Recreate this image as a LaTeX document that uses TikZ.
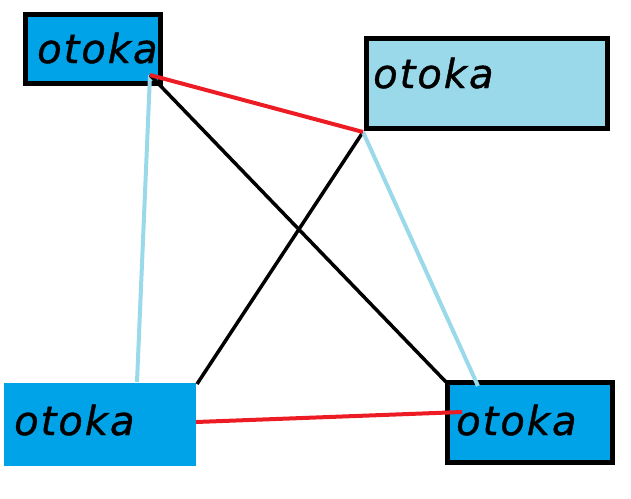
\documentclass[tikz,border=0pt]{standalone}
\usepackage{fontspec}
\setmainfont{DejaVu Sans}
\newfontfamily\labfont[LetterSpace=5,FakeBold=1]{DejaVu Sans}
\definecolor{cblue}{HTML}{00A2E8}
\definecolor{lblue}{HTML}{99D9EA}
\definecolor{cred}{HTML}{ED1C24}
\begin{document}
\begin{tikzpicture}[x=1pt,y=-1pt,
  box/.style={rectangle,inner sep=0,outer sep=0,line width=5pt,draw=black},
  lab/.style={anchor=base west,inner sep=0,font=\labfont\fontsize{40}{42}\selectfont\itshape},
  redline/.style={cred,line width=4pt},
  blkline/.style={black,line width=3.5pt},
  blueline/.style={lblue,line width=4pt}]
\useasboundingbox (0,0) rectangle (631,498);
\node[box,fill=cblue,minimum width=135pt,minimum height=69pt] (A) at (93,49) {};
\node[box,fill=lblue,minimum width=241pt,minimum height=90pt] (B) at (487,83.5) {};
\node[box,draw=none,fill=cblue,minimum width=192pt,minimum height=83pt] (C) at (100,424.5) {};
\node[box,fill=cblue,minimum width=165pt,minimum height=80pt] (D) at (530,422.5) {};
\node[lab] (tA) at (37,63) {otoka};
\node[lab] (tB) at (373,88) {otoka};
\node[lab] (tC) at (14,435) {otoka};
\node[lab] (tD) at (456,435) {otoka};
\coordinate (a1) at (150,75);
\coordinate (b1) at (363,132);
\coordinate (c1) at (137,382);
\coordinate (c2) at (197,384);
\coordinate (c3) at (196,422);
\coordinate (d1) at (446,382);
\coordinate (d2) at (478,386);
\coordinate (d3) at (462,412);
\draw[blueline] (a1) -- (c1);
\draw[blkline] (a1) -- (d1);
\draw[blkline] (b1) -- (c2);
\draw[blueline] (b1) -- (d2);
\draw[redline] (a1) -- (b1);
\draw[redline] (c3) -- (d3);
\end{tikzpicture}
\end{document}
